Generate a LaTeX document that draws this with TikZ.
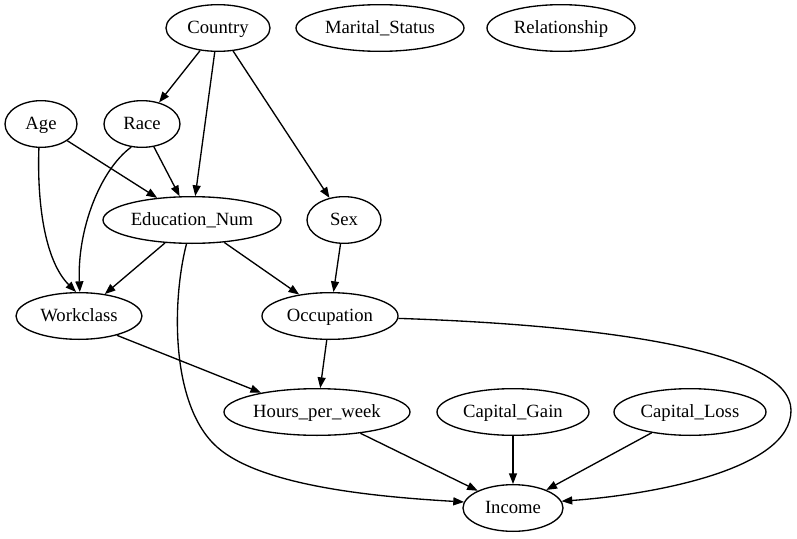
\documentclass[tikz,border=0pt]{standalone}
\usepackage{fontspec}
\setmainfont{Liberation Serif}
\usetikzlibrary{arrows.meta,shapes.geometric}
\begin{document}
\begin{tikzpicture}[x=0.75pt,y=-0.75pt,
  vnode/.style={ellipse,draw,line width=1pt,inner sep=0pt,minimum height=35pt,text height=9.5pt,text depth=1.5pt,font=\fontsize{14pt}{16pt}\selectfont},
  edge/.style={line width=1pt,-{Triangle[length=8pt,width=6pt]}}]
\useasboundingbox (0,0) rectangle (797,539);
\node[vnode,minimum width=78pt] (country) at (218,28) {Country};
\node[vnode,minimum width=126pt] (marital) at (380,28) {Marital\_Status};
\node[vnode,minimum width=111pt] (relation) at (561,28) {Relationship};
\node[vnode,minimum width=54pt] (age) at (41,124) {Age};
\node[vnode,minimum width=57pt] (race) at (142,124) {Race};
\node[vnode,minimum width=133.5pt] (edu) at (192,220) {Education\_Num};
\node[vnode,minimum width=55.5pt] (sex) at (344,220) {Sex};
\node[vnode,minimum width=94.5pt] (work) at (79,316) {Workclass};
\node[vnode,minimum width=102pt] (occ) at (330,316) {Occupation};
\node[vnode,minimum width=139.5pt] (hours) at (317,412) {Hours\_per\_week};
\node[vnode,minimum width=114pt] (gain) at (513,412) {Capital\_Gain};
\node[vnode,minimum width=114pt] (loss) at (690,412) {Capital\_Loss};
\node[vnode,minimum width=75pt] (income) at (513,508) {Income};

\draw[edge] (country) -- (race);
\draw[edge] (country) -- (edu);
\draw[edge] (country) -- (sex);
\draw[edge] (age) -- (edu);
\draw[edge] (race) -- (edu);
\draw[edge] (age.-95) .. controls (37,200) and (44,260) .. (work.97);
\draw[edge] (race.-115) .. controls (100,170) and (77,230) .. (work.88);
\draw[edge] (edu) -- (work);
\draw[edge] (edu) -- (occ);
\draw[edge] (edu.-103) .. controls (172,300) and (170,405) .. (217,447) .. controls (262,487) and (380,497) .. (income.173);
\draw[edge] (sex) -- (occ);
\draw[edge] (work.-27) -- (hours.161);
\draw[edge] (occ) -- (hours);
\draw[edge] (occ.-2) .. controls (600,325) and (790,350) .. (791,410) .. controls (792,470) and (650,495) .. (income.8);
\draw[edge] (hours) -- (income);
\draw[edge] (gain) -- (income);
\draw[edge] (loss) -- (income);
\end{tikzpicture}
\end{document}
